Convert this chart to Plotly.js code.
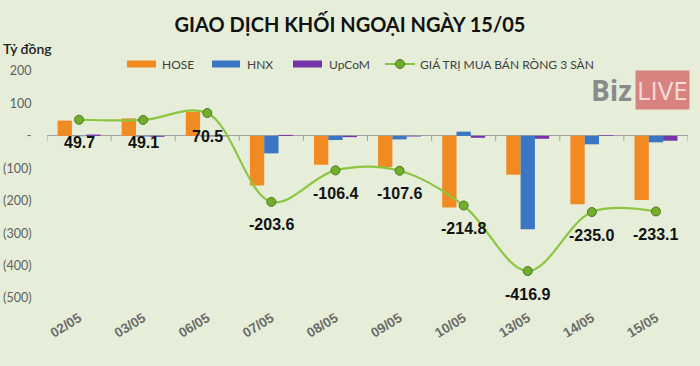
<!DOCTYPE html>
<html>
<head>
<meta charset="utf-8">
<script src="https://cdn.plot.ly/plotly-3.0.1.min.js"></script>
<style>
html,body{margin:0;padding:0;background:#e6eed9;}
#chart{width:700px;height:366px;}
</style>
</head>
<body>
<div id="chart"></div>
<script>
// ---- data ----
const categories = ["02/05","03/05","06/05","07/05","08/05","09/05","10/05","13/05","14/05","15/05"];
const hose  = [47, 54, 74, -153, -89, -96, -221, -120, -211, -198];
const hnx   = [-1, -2, -2, -54, -13, -11, 13, -288, -26, -20];
const upcom = [4, -3, -1.5, 3, -4, -2, -6, -9, 2, -15];
const net   = [49.7, 49.1, 70.5, -203.6, -106.4, -107.6, -214.8, -416.9, -235.0, -233.1];
const yTickVals = [200, 100, 0, -100, -200, -300, -400, -500];
const yTickText = ["200", "100", "-", "(100)", "(200)", "(300)", "(400)", "(500)"];
const seriesNames = ["HOSE", "HNX", "UpCoM", "GIÁ TRỊ MUA BÁN RÒNG 3 SÀN"];

// ---- styles ----
const C_HOSE = "#f28a22", C_HNX = "#3b76c4", C_UP = "#7433a6", C_LINE = "#8cc540";
const ML = 47, MR = 12, MT = 71, MB = 68, W = 700, H = 366;
const PW = W - ML - MR, PH = H - MT - MB;
const px = v => (v - ML) / PW;          // pixel x -> paper
const py = v => (H - MB - v) / PH;      // pixel y -> paper

const traces = [
  {type:"bar", name:seriesNames[0], x:categories, y:hose, marker:{color:C_HOSE}, showlegend:false, hoverinfo:"skip"},
  {type:"bar", name:seriesNames[1], x:categories, y:hnx, marker:{color:C_HNX}, showlegend:false, hoverinfo:"skip"},
  {type:"bar", name:seriesNames[2], x:categories, y:upcom, marker:{color:C_UP}, showlegend:false, hoverinfo:"skip"},
  {type:"scatter", mode:"lines+markers", name:seriesNames[3], x:categories, y:net,
   line:{color:C_LINE, width:2.2, shape:"spline", smoothing:1},
   marker:{size:9, color:"#74ad2e", line:{color:"#4a7a1a", width:1}},
   cliponaxis:false, showlegend:false, hoverinfo:"skip"}
];

const shapes = [];
const annotations = [];

// baseline tick marks at category boundaries
for (let i = 0; i <= categories.length; i++) {
  shapes.push({type:"line", xref:"x", yref:"y", x0:i-0.5, x1:i-0.5,
    ysizemode:"pixel", yanchor:0, y0:0, y1:-5, line:{color:"#a0a0a0", width:1}});
}

// data labels under the net line points
categories.forEach((c, i) => {
  annotations.push({x:c, y:net[i], xref:"x", yref:"y", text:net[i].toFixed(1),
    showarrow:false, yshift:-23,
    font:{family:"Liberation Sans, Arial, sans-serif", size:16, color:"#111", weight:700}});
});

// custom legend
const legFont = {family:"Lato, sans-serif", size:12, color:"#404040"};
const legY = 64;
[[127,156,160,C_HOSE,0],[212,240,245,C_HNX,1],[293,322,327,C_UP,2]].forEach(([a,b,t,col,k]) => {
  shapes.push({type:"rect", xref:"paper", yref:"paper", x0:px(a), x1:px(b), y0:py(legY+3.5), y1:py(legY-3.5),
    fillcolor:col, line:{width:0}});
  annotations.push({xref:"paper", yref:"paper", x:px(t), y:py(legY), xanchor:"left", yanchor:"middle",
    text:seriesNames[k], showarrow:false, font:legFont});
});
shapes.push({type:"line", xref:"paper", yref:"paper", x0:px(385), x1:px(415), y0:py(legY), y1:py(legY),
  line:{color:C_LINE, width:2}});
shapes.push({type:"circle", xref:"paper", yref:"paper", x0:px(395.5), x1:px(404.5), y0:py(legY+4.5), y1:py(legY-4.5),
  fillcolor:"#74ad2e", line:{color:"#4a7a1a", width:1}});
annotations.push({xref:"paper", yref:"paper", x:px(418), y:py(legY), xanchor:"left", yanchor:"middle",
  text:seriesNames[3], showarrow:false, font:legFont});

// unit label
annotations.push({xref:"paper", yref:"paper", x:px(1), y:py(49), xanchor:"left", yanchor:"middle",
  text:"Tỷ đồng", showarrow:false, font:{family:"Lato, sans-serif", size:14, color:"#222", weight:600}});

// BizLIVE logo
annotations.push({xref:"paper", yref:"paper", x:px(634), y:py(90), xanchor:"right", yanchor:"middle",
  text:"Biz", showarrow:false, font:{family:"Open Sans, sans-serif", size:28, color:"#8a8a8a", weight:700}});
annotations.push({xref:"paper", yref:"paper", x:px(635), y:py(90), xanchor:"left", yanchor:"middle",
  text:"LIVE", showarrow:false, bgcolor:"#d98380", borderpad:1,
  font:{family:"Open Sans, sans-serif", size:26, color:"#f7dcd8", weight:400}});

const layout = {
  width:W, height:H, autosize:false,
  paper_bgcolor:"#e6eed9", plot_bgcolor:"#e6eed9",
  margin:{l:ML, r:MR, t:MT, b:MB, pad:0},
  title:{text:"GIAO DỊCH KHỐI NGOẠI NGÀY 15/05", x:0.5, xref:"container", y:1-25/H, yref:"container",
    xanchor:"center", yanchor:"middle",
    font:{family:"Lato, sans-serif", size:20, color:"#111", weight:700}},
  barmode:"group", bargap:0.33, bargroupgap:0,
  showlegend:false,
  xaxis:{type:"category", range:[-0.5, categories.length-0.5], showline:false, showgrid:false, zeroline:false,
    ticks:"outside", ticklen:6, tickcolor:"rgba(0,0,0,0)", tickangle:-32, automargin:false,
    tickfont:{family:"Liberation Sans, Arial, sans-serif", size:13.5, color:"#6a6a6a", weight:700}},
  yaxis:{range:[-500, 200], tickvals:yTickVals, ticktext:yTickText, showgrid:false,
    zeroline:true, zerolinecolor:"#a0a0a0", zerolinewidth:1, showline:false,
    ticks:"outside", ticklen:12, tickcolor:"rgba(0,0,0,0)", automargin:false,
    tickfont:{family:"Lato, sans-serif", size:12.5, color:"#5f5f5f"}},
  shapes:shapes,
  annotations:annotations
};

Plotly.newPlot("chart", traces, layout, {staticPlot:true, displayModeBar:false});
</script>
</body>
</html>
